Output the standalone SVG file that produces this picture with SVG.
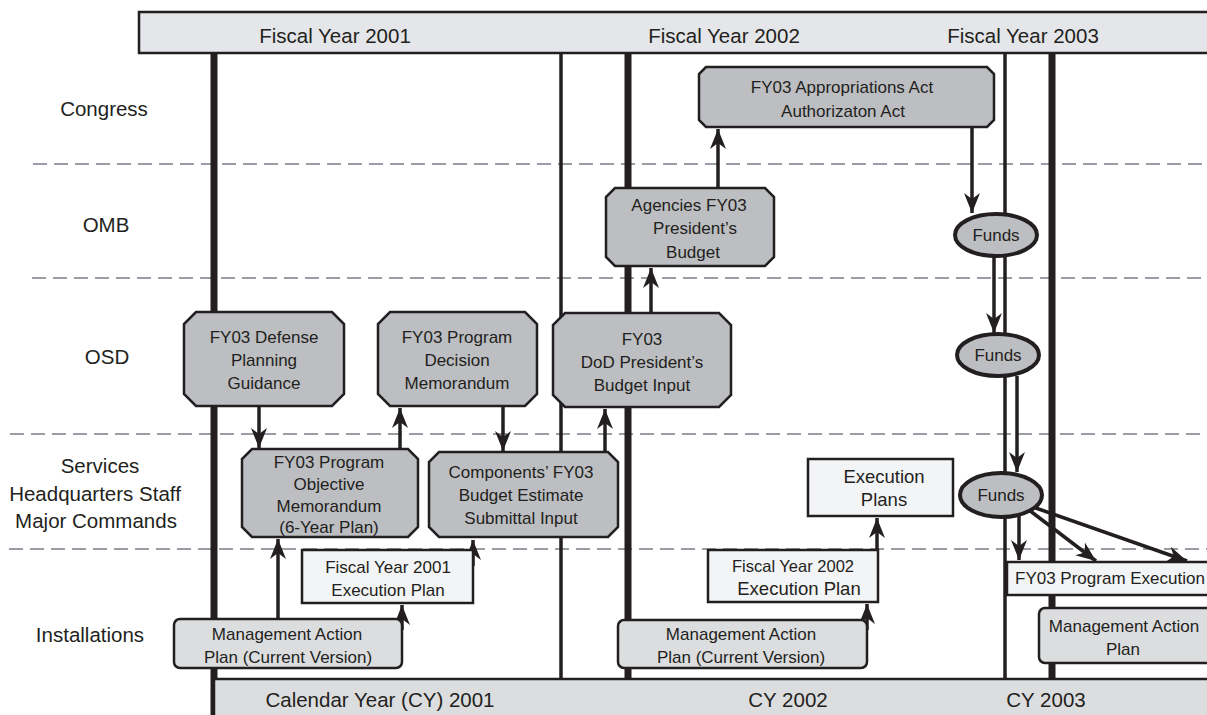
<svg xmlns="http://www.w3.org/2000/svg" width="1207" height="715" viewBox="0 0 1207 715">
<style>
text{font-family:"Liberation Sans",Arial,sans-serif;fill:#231f20;text-anchor:middle}
.t17{font-size:17px}
.t20{font-size:20.5px}
.oct{fill:#bcbec1;stroke:#231f20;stroke-width:2.5}
.lt{fill:#dcdddf;stroke:#231f20;stroke-width:2.5}
.wh{fill:#f3f4f6;stroke:#231f20;stroke-width:2.5}
.fund{fill:#bcbec1;stroke:#231f20;stroke-width:4}
.dash{stroke:#9a9da3;stroke-width:2;stroke-dasharray:14 7;fill:none}
.thick{stroke:#231f20;stroke-width:7}
.thin{stroke:#231f20;stroke-width:3.5}
.arr{stroke:#231f20;stroke-width:3.5;fill:none;marker-end:url(#ah)}
</style>
<defs>
<marker id="ah" markerUnits="userSpaceOnUse" markerWidth="23" markerHeight="20" viewBox="-22 -10 23 20" refX="0" refY="0" orient="auto">
<path d="M0,0 L-20,-8 L-14,0 L-20,8 Z" fill="#231f20"/>
</marker>
</defs>
<rect width="1207" height="715" fill="#ffffff"/>

<g id="header">
<rect x="139" y="12" width="1075" height="41" fill="#e5e6e9" stroke="#231f20" stroke-width="2.5"/>
<text x="335" y="43" class="t20">Fiscal Year 2001</text>
<text x="724" y="43" class="t20">Fiscal Year 2002</text>
<text x="1023" y="43" class="t20">Fiscal Year 2003</text>
</g>

<g id="lanes">
<line x1="33" y1="164" x2="1207" y2="164" class="dash"/>
<line x1="32" y1="278" x2="1207" y2="278" class="dash"/>
<line x1="10" y1="434" x2="1207" y2="434" class="dash"/>
<line x1="9" y1="549" x2="1207" y2="549" class="dash"/>
<text x="104" y="116" class="t20">Congress</text>
<text x="106" y="232" class="t20">OMB</text>
<text x="107" y="364" class="t20">OSD</text>
<text x="100" y="473" class="t20">Services</text>
<text x="95" y="501" class="t20">Headquarters Staff</text>
<text x="96" y="528" class="t20">Major Commands</text>
<text x="90" y="642" class="t20">Installations</text>
</g>

<g id="timelines">
<line x1="214" y1="53" x2="214" y2="715" class="thick"/>
<line x1="561" y1="53" x2="561" y2="680" class="thin"/>
<line x1="628" y1="53" x2="628" y2="680" class="thick"/>
<line x1="1005" y1="53" x2="1005" y2="680" class="thin"/>
<line x1="1052" y1="53" x2="1052" y2="680" class="thick"/>
</g>

<g id="footer">
<rect x="214" y="679" width="1000" height="40" fill="#dcdddf" stroke="#231f20" stroke-width="2.5"/>
<text x="380" y="707" class="t20">Calendar Year (CY) 2001</text>
<text x="788" y="707" class="t20">CY 2002</text>
<text x="1046" y="707" class="t20">CY 2003</text>
</g>

<g id="connectors">
<line x1="259" y1="407" x2="259" y2="448" class="arr"/>
<line x1="400" y1="449" x2="400" y2="408" class="arr"/>
<line x1="503" y1="407" x2="503" y2="451" class="arr"/>
<line x1="605" y1="452" x2="605" y2="409" class="arr"/>
<line x1="651" y1="313" x2="651" y2="268" class="arr"/>
<line x1="718" y1="188" x2="718" y2="129" class="arr"/>
<line x1="972" y1="127" x2="972" y2="213" class="arr"/>
<line x1="994" y1="256" x2="994" y2="333" class="arr"/>
<line x1="1017" y1="376" x2="1017" y2="472" class="arr"/>
<line x1="1019" y1="516" x2="1019" y2="560" class="arr"/>
<line x1="1029" y1="510" x2="1096" y2="561" class="arr"/>
<line x1="1033" y1="507" x2="1187" y2="561" class="arr"/>
<line x1="278" y1="619" x2="278" y2="539" class="arr"/>
<line x1="402" y1="630" x2="402" y2="605" class="arr"/>
<line x1="473" y1="566" x2="473" y2="540" class="arr"/>
<line x1="867" y1="630" x2="867" y2="604" class="arr"/>
<line x1="877" y1="550" x2="877" y2="518" class="arr"/>
<line x1="1199" y1="640" x2="1213" y2="600" class="arr"/>
</g>

<g id="n-dpg">
<path class="oct" d="M196,312 L332,312 L344,324 L344,394 L332,406 L196,406 L184,394 L184,324 Z"/>
<text x="264" y="343" class="t17">FY03 Defense</text>
<text x="264" y="366" class="t17">Planning</text>
<text x="264" y="389" class="t17">Guidance</text>
</g>
<g id="n-pdm">
<path class="oct" d="M390,312 L525,312 L537,324 L537,394 L525,406 L390,406 L378,394 L378,324 Z"/>
<text x="457" y="343" class="t17">FY03 Program</text>
<text x="457" y="366" class="t17">Decision</text>
<text x="457" y="389" class="t17">Memorandum</text>
</g>
<g id="n-dodpbi">
<path class="oct" d="M565,313 L719,313 L731,325 L731,395 L719,407 L565,407 L553,395 L553,325 Z"/>
<text x="642" y="345" class="t17">FY03</text>
<text x="642" y="368" class="t17">DoD President’s</text>
<text x="642" y="391" class="t17">Budget Input</text>
</g>
<g id="n-agencies">
<path class="oct" d="M615,188 L765,188 L774,197 L774,257 L765,266 L615,266 L606,257 L606,197 Z"/>
<text x="689" y="211" class="t17">Agencies FY03</text>
<text x="695" y="234" class="t17">President’s</text>
<text x="693" y="258" class="t17">Budget</text>
</g>
<g id="n-approp">
<path class="oct" d="M706,67 L987,67 L994,74 L994,120 L987,127 L706,127 L699,120 L699,74 Z"/>
<text x="842" y="93" class="t17">FY03 Appropriations Act</text>
<text x="843" y="117" class="t17">Authorizaton Act</text>
</g>
<g id="n-pom">
<path class="oct" d="M252,449 L408,449 L418,459 L418,527 L408,537 L252,537 L242,527 L242,459 Z"/>
<text x="329" y="468" class="t17">FY03 Program</text>
<text x="329" y="490" class="t17">Objective</text>
<text x="329" y="512" class="t17">Memorandum</text>
<text x="329" y="533" class="t17">(6-Year Plan)</text>
</g>
<g id="n-components">
<path class="oct" d="M439,452 L608,452 L618,462 L618,527 L608,537 L439,537 L429,527 L429,462 Z"/>
<text x="521" y="478" class="t17">Components’ FY03</text>
<text x="521" y="501" class="t17">Budget Estimate</text>
<text x="521" y="524" class="t17">Submittal Input</text>
</g>
<g id="n-fy01exec">
<rect class="wh" x="302" y="550" width="171" height="53"/>
<text x="388" y="573" class="t17">Fiscal Year 2001</text>
<text x="388" y="596" class="t17">Execution Plan</text>
</g>
<g id="n-map01">
<rect class="lt" x="174" y="619" width="228" height="49" rx="6"/>
<text x="287" y="640" class="t17">Management Action</text>
<text x="288" y="663" class="t17">Plan (Current Version)</text>
</g>
<g id="n-execplans">
<rect class="wh" x="808" y="459" width="145" height="57"/>
<text x="884" y="483" style="font-size:18.5px">Execution</text>
<text x="884" y="506" style="font-size:18.5px">Plans</text>
</g>
<g id="n-fy02exec">
<rect class="wh" x="708" y="550" width="170" height="52"/>
<text x="793" y="572" style="font-size:16.5px">Fiscal Year 2002</text>
<text x="799" y="595" style="font-size:18.5px">Execution Plan</text>
</g>
<g id="n-map02">
<rect class="lt" x="618" y="620" width="249" height="48" rx="6"/>
<text x="741" y="640" class="t17">Management Action</text>
<text x="741" y="663" class="t17">Plan (Current Version)</text>
</g>
<g id="n-progexec">
<rect class="wh" x="1007" y="562" width="210" height="33"/>
<text x="1015" y="584" class="t17" style="text-anchor:start">FY03 Program Execution</text>
</g>
<g id="n-map03">
<rect class="lt" x="1039" y="608" width="180" height="55" rx="6"/>
<text x="1124" y="632" class="t17">Management Action</text>
<text x="1123" y="655" class="t17">Plan</text>
</g>
<g id="n-funds1">
<ellipse class="fund" cx="996" cy="235" rx="41" ry="21"/>
<text x="996" y="241" class="t17">Funds</text>
</g>
<g id="n-funds2">
<ellipse class="fund" cx="998" cy="355" rx="41" ry="21"/>
<text x="998" y="361" class="t17">Funds</text>
</g>
<g id="n-funds3">
<ellipse class="fund" cx="1001" cy="495" rx="41" ry="22"/>
<text x="1001" y="501" class="t17">Funds</text>
</g>
</svg>
